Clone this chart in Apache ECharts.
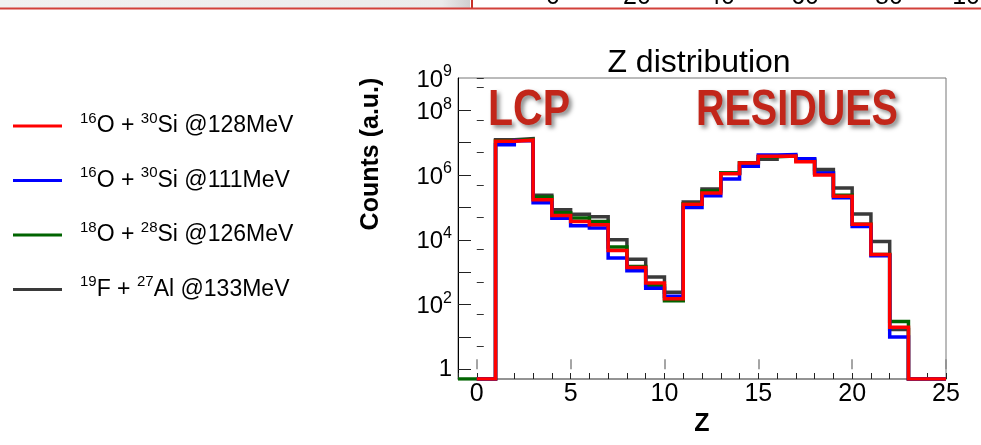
<!DOCTYPE html>
<html>
<head>
<meta charset="utf-8">
<script src="https://cdn.jsdelivr.net/npm/echarts@6/dist/echarts.min.js"></script>
<style>
  html, body { margin: 0; padding: 0; background: #ffffff; }
  #chart { width: 981px; height: 445px; }
</style>
</head>
<body>
<div id="chart"></div>
<script>
// Lower edges of the unit-width Z bins
const zBins = [0, 1, 2, 3, 4, 5, 6, 7, 8, 9, 10, 11, 12, 13, 14, 15, 16, 17, 18, 19, 20, 21, 22, 23, 24];
const zBinsO18 = [-1, 0, 1, 2, 3, 4, 5, 6, 7, 8, 9, 10, 11, 12, 13, 14, 15, 16, 17, 18, 19, 20, 21, 22, 23, 24];

// Counts per bin (a.u.)
const countsO16Si30_128 = [0, 1.12e7, 1.2e7, 1.74e5, 5.6e4, 3.7e4, 2.9e4, 4.7e3, 1.4e3, 460, 150,
  1.26e5, 2.8e5, 1.1e6, 2.35e6, 3.8e6, 3.9e6, 2.6e6, 1.0e6, 2.2e5, 3.0e4, 3.5e3, 20, 0, 0];
const countsO16Si30_111 = [0, 8.7e6, 1.15e7, 1.4e5, 4.6e4, 2.7e4, 2.3e4, 2.75e3, 1.1e3, 320, 180,
  1.0e5, 2.3e5, 7.6e5, 1.86e6, 4.2e6, 4.3e6, 3.2e6, 1.15e6, 2.0e5, 2.6e4, 3.2e3, 10, 0, 0];
const countsO18Si28_126 = [0, 0, 1.15e7, 1.26e7, 2.1e5, 6.9e4, 4.7e4, 3.7e4, 6.0e3, 1.5e3, 380, 130,
  1.3e5, 3.2e5, 1.17e6, 2.4e6, 3.7e6, 3.9e6, 2.8e6, 1.17e6, 2.4e5, 3.0e4, 3.5e3, 30, 0, 0];
const countsF19Al27_133 = [0, 1.23e7, 1.35e7, 2.4e5, 8.5e4, 6.2e4, 5.2e4, 1.0e4, 2.5e3, 710, 240,
  1.48e5, 3.7e5, 1.15e6, 2.35e6, 3.1e6, 3.8e6, 3.1e6, 1.5e6, 4.0e5, 6.3e4, 8.9e3, 17, 0, 0];

// Reaction labels
const projMass = ['16', '16', '18', '19'];
const projSym = ['O', 'O', 'O', 'F'];
const targMass = ['30', '30', '28', '27'];
const targSym = ['Si', 'Si', 'Si', 'Al'];
const beamEnergy = ['128', '111', '126', '133'];
const lineColors = ['#ff0000', '#0000ff', '#006400', '#3a3a3a'];

// Axis ticks and labels
const xRange = [-1, 25];
const xMajorTicks = [0, 5, 10, 15, 20, 25];
const yMin = 0.5;
const yMax = 1e9;
const yLabelExponents = [0, 2, 4, 6, 8, 9];
const topStripLabels = ['0', '20', '40', '60', '80', '100'];

const FONT = '"Liberation Sans", Arial, Helvetica, sans-serif';

// Step outline of a histogram: one point per lower edge, plus the closing upper edge
function histogramOutline(lowEdges, counts) {
  const pts = lowEdges.map((z, i) => [z, Math.max(counts[i], yMin)]);
  const last = lowEdges.length - 1;
  pts.push([lowEdges[last] + 1, Math.max(counts[last], yMin)]);
  return pts;
}

// "10^n" as rich text; n = 0 is written as a plain "1"
function powerLabel(n) {
  if (n === 0) return '{one|1}';
  return '{sp|\u200b}{b|10}{s|' + n + '}';
}
const powerRich = {
  one: { fontFamily: FONT, fontSize: 24, lineHeight: 26, color: '#000' },
  sp: { fontSize: 1, lineHeight: 28 },
  b: { fontFamily: FONT, fontSize: 24, lineHeight: 26, verticalAlign: 'bottom', color: '#000' },
  s: { fontFamily: FONT, fontSize: 16, lineHeight: 16, verticalAlign: 'top', color: '#000' }
};

const names = projSym.map((p, i) =>
  projMass[i] + p + ' + ' + targMass[i] + targSym[i] + ' @' + beamEnergy[i] + 'MeV');

const histos = [
  histogramOutline(zBins, countsO16Si30_128),
  histogramOutline(zBins, countsO16Si30_111),
  histogramOutline(zBinsO18, countsO18Si28_126),
  histogramOutline(zBins, countsF19Al27_133)
];
const zOrder = [4, 3, 2, 1];

const series = histos.map((data, i) => ({
  name: names[i],
  type: 'line',
  step: 'end',
  data: data,
  xAxisIndex: 0,
  yAxisIndex: 0,
  symbol: 'none',
  z: zOrder[i],
  animation: false,
  lineStyle: { color: lineColors[i], width: 3.5, cap: 'butt', join: 'miter' },
  itemStyle: { color: lineColors[i] }
}));

const chart = echarts.init(document.getElementById('chart'), null, { renderer: 'canvas' });

const option = {
  backgroundColor: '#ffffff',
  animation: false,
  title: {
    text: 'Z distribution',
    left: 694,
    top: 42,
    textAlign: 'center',
    textStyle: { fontFamily: FONT, fontSize: 32, fontWeight: 'normal', color: '#000' }
  },
  legend: {
    orient: 'vertical',
    left: 13,
    top: 111,
    padding: 0,
    itemWidth: 49,
    itemHeight: 3,
    itemGap: 28,
    icon: 'rect',
    selectedMode: false,
    data: names,
    formatter: function (name) {
      const i = names.indexOf(name);
      return '{s|' + projMass[i] + '}{b|' + projSym[i] + ' + }{s|' + targMass[i] + '}{b|' +
        targSym[i] + ' @' + beamEnergy[i] + 'MeV}';
    },
    textStyle: {
      padding: [0, 0, 0, 13],
      fontFamily: FONT,
      color: '#000',
      rich: {
        b: { fontFamily: FONT, fontSize: 23, lineHeight: 30, color: '#000' },
        s: { fontFamily: FONT, fontSize: 15, lineHeight: 14, verticalAlign: 'top', color: '#000' }
      }
    }
  },
  grid: {
    left: 458, right: 35, top: 78, bottom: 66,
    show: true, borderColor: '#777', borderWidth: 1,
    containLabel: false,
    outerBoundsMode: 'none'
  },
  xAxis: [
    {
      type: 'value',
      position: 'bottom',
      min: xRange[0], max: xRange[1], interval: 1,
      name: 'Z',
      nameLocation: 'middle',
      nameGap: 32,
      nameTextStyle: { fontFamily: FONT, fontSize: 25, fontWeight: 'bold', color: '#000' },
      axisLine: { show: true, onZero: false, lineStyle: { color: '#888', width: 1.5 } },
      axisTick: { show: true, inside: true, length: 6, lineStyle: { color: '#222', width: 1 } },
      axisLabel: {
        margin: 3,
        fontFamily: FONT, fontSize: 25, color: '#000',
        hideOverlap: false,
        formatter: v => (xMajorTicks.indexOf(v) >= 0 ? String(v) : '')
      },
      splitLine: { show: false }
    },
    {
      type: 'value',
      position: 'bottom',
      min: xRange[0], max: xRange[1],
      axisLine: { show: false },
      axisTick: { show: true, inside: true, length: 10, customValues: xMajorTicks,
        lineStyle: { color: '#888', width: 1.5 } },
      axisLabel: { show: false },
      splitLine: { show: false }
    }
  ],
  yAxis: [
    {
      type: 'log',
      logBase: 10,
      position: 'left',
      min: yMin, max: yMax,
      splitNumber: 9,
      axisLine: { show: true, onZero: false, lineStyle: { color: '#000', width: 1 } },
      axisTick: { show: true, inside: true, length: 13, lineStyle: { color: '#222', width: 1 } },
      axisLabel: {
        margin: 6,
        hideOverlap: false,
        showMaxLabel: false,
        showMinLabel: true,
        fontFamily: FONT, fontSize: 24, color: '#000',
        formatter: function (v) {
          const e = Math.log10(v);
          const r = Math.round(e);
          if (Math.abs(e - r) > 1e-6 || yLabelExponents.indexOf(r) < 0) return '';
          return powerLabel(r);
        },
        rich: powerRich
      },
      splitLine: { show: false }
    },
    {
      // half-decade (5 x 10^n) ticks in exponent space; also carries the top-of-range label
      type: 'value',
      position: 'left',
      min: Math.log10(yMin), max: Math.log10(yMax), interval: 1,
      axisLine: { show: false },
      axisTick: { show: true, inside: true, length: 7, lineStyle: { color: '#333', width: 1 } },
      axisLabel: {
        show: true,
        margin: 6,
        hideOverlap: false,
        showMaxLabel: true,
        fontFamily: FONT, fontSize: 24, color: '#000',
        formatter: function (v) {
          const top = Math.log10(yMax);
          if (Math.abs(v - top) > 1e-6) return '';
          const r = Math.round(top);
          return yLabelExponents.indexOf(r) >= 0 ? powerLabel(r) : '';
        },
        rich: powerRich
      },
      splitLine: { show: false }
    }
  ],
  graphic: [
    // strip of the neighbouring panel at the top edge
    {
      type: 'rect', silent: true,
      shape: { x: 0, y: 0, width: 470, height: 8 },
      style: { fill: new echarts.graphic.LinearGradient(0, 0, 1, 0, [
        { offset: 0, color: '#f1f1f1' }, { offset: 0.94, color: '#ebebeb' }, { offset: 1, color: '#cfcfcf' }]) }
    },
    {
      type: 'line', silent: true,
      shape: { x1: 472, y1: 0, x2: 472, y2: 9 },
      style: { stroke: '#c8322a', lineWidth: 2 }
    },
    {
      type: 'line', silent: true,
      shape: { x1: 0, y1: 8.5, x2: 981, y2: 8.5 },
      style: { stroke: '#d2403a', lineWidth: 2 }
    },
    ...topStripLabels.map((t, i) => ({
      type: 'text', silent: true,
      x: 553 + i * 84, y: -3,
      style: { text: t, fontFamily: FONT, fontSize: 25, fill: '#000',
        align: 'center', verticalAlign: 'middle', textAlign: 'center', textVerticalAlign: 'middle' }
    })),
    // y-axis title
    {
      type: 'text', silent: true,
      x: 371, y: 154, rotation: Math.PI / 2,
      style: { text: 'Counts (a.u.)', fontFamily: FONT, fontSize: 25, fontWeight: 'bold', fill: '#000',
        align: 'center', verticalAlign: 'middle', textAlign: 'center', textVerticalAlign: 'middle' }
    },
    // region annotations
    {
      type: 'text', silent: true,
      x: 488, y: 111, scaleX: 0.82, scaleY: 1,
      style: { text: 'LCP', fontFamily: FONT, fontSize: 50, fontWeight: 'bold', fill: '#c2261a',
        align: 'left', verticalAlign: 'middle', textAlign: 'left', textVerticalAlign: 'middle',
        textShadowColor: 'rgba(0,0,0,0.45)', textShadowBlur: 4, textShadowOffsetX: 3, textShadowOffsetY: 3 }
    },
    {
      type: 'text', silent: true,
      x: 696, y: 111.5, scaleX: 0.79, scaleY: 1,
      style: { text: 'RESIDUES', fontFamily: FONT, fontSize: 50, fontWeight: 'bold', fill: '#c2261a',
        align: 'left', verticalAlign: 'middle', textAlign: 'left', textVerticalAlign: 'middle',
        textShadowColor: 'rgba(0,0,0,0.45)', textShadowBlur: 4, textShadowOffsetX: 3, textShadowOffsetY: 3 }
    }
  ],
  series: series
};

chart.setOption(option);
</script>
</body>
</html>
